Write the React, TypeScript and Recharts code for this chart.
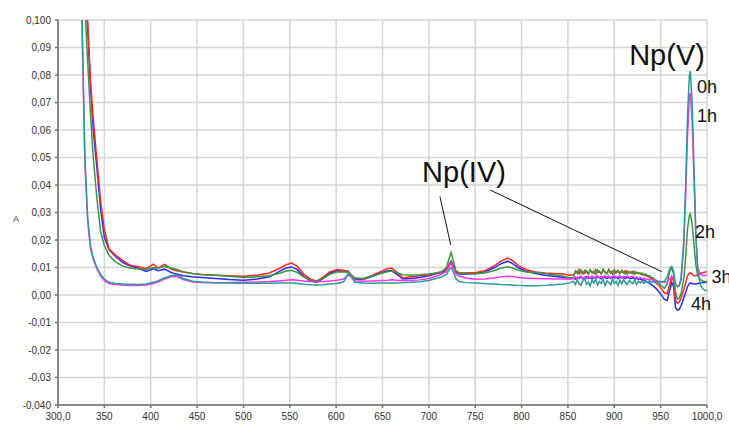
import { LineChart, Line, XAxis, YAxis, CartesianGrid, ReferenceLine, ReferenceDot } from 'recharts';

// wavelength grid, nm (dense steps where the detector is noisy)
const wavelengths = [
  320, 324, 326, 329, 332, 335, 338, 342, 346, 350, 355, 362, 370, 378, 386, 395, 403, 408, 415, 422,
  428, 435, 445, 455, 470, 485, 500, 515, 528, 540, 546, 552, 558, 565, 572, 579, 586, 593, 601, 608,
  613, 616, 620, 629, 638, 648, 656, 660, 666, 672, 680, 690, 700, 708, 714, 719, 722, 724, 726, 729,
  733, 740, 750, 760, 770, 778, 785, 790, 797, 805, 815, 825, 835, 845, 852,
  856, 858, 860, 862, 864, 866, 868, 870, 872, 874, 876, 878, 880, 882, 884, 886, 888, 890, 892, 894,
  896, 898, 900, 902, 904, 906, 908, 910, 912, 914, 916, 918, 920, 922, 924, 926, 928, 930, 932, 934,
  936, 938, 940, 942, 944, 946, 948,
  950, 954, 957, 960, 962, 964, 966, 968, 970, 972, 975, 977, 979, 981, 982, 984, 986, 988, 990, 993, 996, 1000,
];

// absorbance after 0 h
const abs0h = [
  0.300, 0.130, 0.100, 0.050, 0.028, 0.018, 0.0135, 0.010, 0.0075, 0.0058, 0.0046, 0.0042, 0.0040, 0.0039, 0.0038, 0.0040, 0.0046, 0.0052, 0.0062, 0.0070,
  0.0073, 0.0060, 0.0050, 0.0047, 0.0045, 0.0044, 0.0043, 0.0043, 0.0043, 0.0044, 0.0044, 0.0044, 0.0042, 0.0039, 0.0037, 0.0036, 0.0037, 0.0040, 0.0042, 0.0048,
  0.0078, 0.0070, 0.0046, 0.0044, 0.0043, 0.0044, 0.0044, 0.0044, 0.0044, 0.0045, 0.0046, 0.0048, 0.0053, 0.0060, 0.0066, 0.0075, 0.0092, 0.0100, 0.0088, 0.0060,
  0.0049, 0.0045, 0.0044, 0.0042, 0.0040, 0.0038, 0.0037, 0.0036, 0.0035, 0.0034, 0.0034, 0.0035, 0.0037, 0.0040, 0.0044,
  0.0050, 0.0038, 0.0056, 0.0041, 0.0035, 0.0052, 0.0060, 0.0039, 0.0047, 0.0033, 0.0055, 0.0044, 0.0058, 0.0036, 0.0049, 0.0042, 0.0057, 0.0034, 0.0051, 0.0046,
  0.0037, 0.0059, 0.0043, 0.0050, 0.0035, 0.0054, 0.0040, 0.0056, 0.0045, 0.0038, 0.0053, 0.0047, 0.0041, 0.0055, 0.0039, 0.0050, 0.0044, 0.0052, 0.0042, 0.0049,
  0.0045, 0.0051, 0.0046, 0.0048, 0.0045, 0.0048, 0.0047,
  0.0048, 0.0050, 0.0065, 0.0098, 0.0104, 0.0086, 0.0040, 0.0030, 0.0034, 0.0060, 0.0200, 0.0400, 0.0650, 0.0800, 0.0815, 0.0700, 0.0460, 0.0220, 0.0090, 0.0035, 0.0020, 0.0015,
];

// absorbance after 1 h
const abs1h = [
  0.300, 0.125, 0.095, 0.048, 0.027, 0.017, 0.013, 0.0095, 0.007, 0.0052, 0.0042, 0.0038, 0.0036, 0.0035, 0.0035, 0.0036, 0.0042, 0.0048, 0.0058, 0.0066,
  0.0068, 0.0056, 0.0047, 0.0045, 0.0044, 0.0045, 0.0046, 0.0047, 0.0049, 0.0052, 0.0054, 0.0055, 0.0054, 0.0051, 0.0049, 0.0048, 0.0049, 0.0051, 0.0054, 0.0058,
  0.0072, 0.0066, 0.0052, 0.0050, 0.0051, 0.0053, 0.0054, 0.0055, 0.0054, 0.0053, 0.0053, 0.0055, 0.0060, 0.0068, 0.0076, 0.0086, 0.0105, 0.0115, 0.0100, 0.0076,
  0.0068, 0.0062, 0.0057, 0.0058, 0.0062, 0.0066, 0.0068, 0.0067, 0.0064, 0.0061, 0.0060, 0.0059, 0.0058, 0.0058, 0.0057,
  0.0060, 0.0066, 0.0058, 0.0064, 0.0069, 0.0061, 0.0065, 0.0059, 0.0067, 0.0063, 0.0070, 0.0062, 0.0066, 0.0071, 0.0063, 0.0068, 0.0064, 0.0070, 0.0065, 0.0069,
  0.0063, 0.0068, 0.0071, 0.0064, 0.0067, 0.0070, 0.0062, 0.0068, 0.0065, 0.0069, 0.0063, 0.0066, 0.0068, 0.0062, 0.0065, 0.0060, 0.0063, 0.0059, 0.0061, 0.0057,
  0.0058, 0.0055, 0.0056, 0.0053, 0.0052, 0.0050, 0.0049,
  0.0048, 0.0046, 0.0048, 0.0060, 0.0068, 0.0062, 0.0040, 0.0032, 0.0034, 0.0055, 0.0180, 0.0360, 0.0580, 0.0720, 0.0735, 0.0630, 0.0420, 0.0210, 0.0100, 0.0075, 0.0070, 0.0072,
];

// absorbance after 2 h
const abs2h = [
  0.300, 0.200, 0.150, 0.105, 0.085, 0.066, 0.050, 0.035, 0.023, 0.018, 0.0145, 0.012, 0.0105, 0.0097, 0.0095, 0.0093, 0.0100, 0.0097, 0.0104, 0.0098,
  0.0093, 0.0085, 0.0078, 0.0074, 0.0072, 0.0068, 0.0064, 0.0066, 0.0070, 0.0080, 0.0087, 0.0090, 0.0082, 0.0066, 0.0054, 0.0050, 0.0060, 0.0075, 0.0084, 0.0084,
  0.0083, 0.0072, 0.0062, 0.0060, 0.0068, 0.0078, 0.0085, 0.0087, 0.0080, 0.0074, 0.0073, 0.0074, 0.0076, 0.0080, 0.0086, 0.0100, 0.0135, 0.0155, 0.0130, 0.0090,
  0.0080, 0.0078, 0.0077, 0.0080, 0.0088, 0.0098, 0.0103, 0.0098, 0.0090, 0.0084, 0.0082, 0.0078, 0.0074, 0.0068, 0.0062,
  0.0064, 0.0088, 0.0079, 0.0093, 0.0081, 0.0076, 0.0090, 0.0084, 0.0078, 0.0092, 0.0080, 0.0087, 0.0075, 0.0091, 0.0083, 0.0079, 0.0094, 0.0082, 0.0077, 0.0089,
  0.0085, 0.0076, 0.0092, 0.0081, 0.0087, 0.0078, 0.0090, 0.0083, 0.0076, 0.0088, 0.0080, 0.0085, 0.0077, 0.0086, 0.0079, 0.0082, 0.0075, 0.0080, 0.0072, 0.0076,
  0.0069, 0.0071, 0.0064, 0.0062, 0.0056, 0.0052, 0.0046,
  0.0036, 0.0024, 0.0040, 0.0090, 0.0098, 0.0075, 0.0010, -0.0016, -0.0012, 0.0005, 0.0060, 0.0140, 0.0240, 0.0290, 0.0295, 0.0260, 0.0180, 0.0110, 0.0070, 0.0056, 0.0050, 0.0048,
];

// absorbance after 3 h
const abs3h = [
  0.300, 0.220, 0.170, 0.120, 0.100, 0.078, 0.064, 0.049, 0.034, 0.024, 0.0168, 0.0145, 0.0125, 0.0108, 0.0103, 0.0096, 0.0112, 0.0098, 0.0112, 0.0094,
  0.0088, 0.0084, 0.0078, 0.0075, 0.0072, 0.0070, 0.0068, 0.0072, 0.0080, 0.0098, 0.0110, 0.0116, 0.0104, 0.0076, 0.0058, 0.0050, 0.0065, 0.0084, 0.0093, 0.0090,
  0.0086, 0.0074, 0.0062, 0.0058, 0.0070, 0.0085, 0.0096, 0.0098, 0.0082, 0.0062, 0.0066, 0.0070, 0.0074, 0.0080, 0.0084, 0.0092, 0.0110, 0.0120, 0.0106, 0.0085,
  0.0080, 0.0081, 0.0081, 0.0088, 0.0105, 0.0123, 0.0134, 0.0126, 0.0106, 0.0092, 0.0084, 0.0080, 0.0078, 0.0076, 0.0072,
  0.0074, 0.0080, 0.0086, 0.0077, 0.0091, 0.0082, 0.0079, 0.0088, 0.0076, 0.0090, 0.0083, 0.0078, 0.0092, 0.0081, 0.0086, 0.0077, 0.0089, 0.0084, 0.0079, 0.0093,
  0.0080, 0.0087, 0.0078, 0.0085, 0.0090, 0.0079, 0.0086, 0.0081, 0.0088, 0.0077, 0.0084, 0.0080, 0.0086, 0.0076, 0.0082, 0.0078, 0.0080, 0.0073, 0.0076, 0.0070,
  0.0068, 0.0064, 0.0060, 0.0055, 0.0050, 0.0042, 0.0036,
  0.0026, 0.0008, 0.0005, 0.0040, 0.0066, 0.0050, -0.0020, -0.0030, -0.0026, -0.0012, 0.0020, 0.0045, 0.0070, 0.0080, 0.0080, 0.0076, 0.0070, 0.0070, 0.0074, 0.0078, 0.0082, 0.0085,
];

// absorbance after 4 h
const abs4h = [
  0.300, 0.210, 0.160, 0.115, 0.097, 0.076, 0.060, 0.046, 0.031, 0.021, 0.0165, 0.0140, 0.0118, 0.0105, 0.0098, 0.0086, 0.0095, 0.0088, 0.0094, 0.0082,
  0.0076, 0.0070, 0.0066, 0.0064, 0.0060, 0.0056, 0.0054, 0.0058, 0.0066, 0.0088, 0.0098, 0.0102, 0.0092, 0.0068, 0.0052, 0.0046, 0.0060, 0.0080, 0.0088, 0.0087,
  0.0086, 0.0070, 0.0058, 0.0056, 0.0066, 0.0080, 0.0088, 0.0088, 0.0074, 0.0058, 0.0060, 0.0064, 0.0070, 0.0077, 0.0082, 0.0090, 0.0112, 0.0123, 0.0108, 0.0082,
  0.0076, 0.0076, 0.0077, 0.0084, 0.0098, 0.0114, 0.0123, 0.0115, 0.0098, 0.0086, 0.0078, 0.0072, 0.0068, 0.0064, 0.0062,
  0.0061, 0.0058, 0.0064, 0.0060, 0.0066, 0.0059, 0.0063, 0.0067, 0.0060, 0.0064, 0.0058, 0.0065, 0.0061, 0.0067, 0.0062, 0.0059, 0.0066, 0.0063, 0.0060, 0.0065,
  0.0061, 0.0067, 0.0062, 0.0064, 0.0059, 0.0066, 0.0061, 0.0064, 0.0060, 0.0065, 0.0062, 0.0059, 0.0063, 0.0058, 0.0061, 0.0057, 0.0059, 0.0054, 0.0055, 0.0050,
  0.0047, 0.0042, 0.0038, 0.0033, 0.0027, 0.0020, 0.0012,
  0.0004, -0.0016, -0.0020, 0.0020, 0.0046, 0.0030, -0.0045, -0.0055, -0.0052, -0.0040, -0.0010, 0.0010, 0.0030, 0.0042, 0.0044, 0.0042, 0.0040, 0.0040, 0.0042, 0.0044, 0.0045, 0.0046,
];

const xTicks = [300, 350, 400, 450, 500, 550, 600, 650, 700, 750, 800, 850, 900, 950, 1000];
const xTickLabels = ['300,0', '350', '400', '450', '500', '550', '600', '650', '700', '750', '800', '850', '900', '950', '1000,0'];
const yTicks = [-0.04, -0.03, -0.02, -0.01, 0, 0.01, 0.02, 0.03, 0.04, 0.05, 0.06, 0.07, 0.08, 0.09, 0.1];
const yTickLabels = ['-0,040', '-0,03', '-0,02', '-0,01', '0,00', '0,01', '0,02', '0,03', '0,04', '0,05', '0,06', '0,07', '0,08', '0,09', '0,100'];

const series = [
  { key: 'h4', values: abs4h, color: '#2b2bff' },
  { key: 'h3', values: abs3h, color: '#ff2626' },
  { key: 'h2', values: abs2h, color: '#35983a' },
  { key: 'h1', values: abs1h, color: '#ff33ff' },
  { key: 'h0', values: abs0h, color: '#2a9a96' },
];

// text annotations, anchored in data coordinates
const timeLabels = [
  { text: '0h', nm: 989.2, a: 0.0735 },
  { text: '1h', nm: 989.2, a: 0.063 },
  { text: '2h', nm: 987.0, a: 0.0207 },
  { text: '3h', nm: 1004.8, a: 0.0044 },
  { text: '4h', nm: 982.7, a: -0.0055 },
];
const speciesLabels = [
  { text: 'Np(V)', nm: 956.9, a: 0.0836 },
  { text: 'Np(IV)', nm: 737.9, a: 0.0411 },
];
const pointers = [
  [{ x: 712.0, y: 0.0358 }, { x: 723.6, y: 0.0182 }],
  [{ x: 766.0, y: 0.0382 }, { x: 951.1, y: 0.0085 }],
];

const data = wavelengths.map((nm, i) => {
  const row: Record<string, number> = { nm };
  series.forEach(s => { row[s.key] = s.values[i]; });
  return row;
});

const fmtX = (v: number) => xTickLabels[xTicks.indexOf(v)] ?? String(v);
const fmtY = (v: number) => {
  const i = yTicks.findIndex(t => Math.abs(t - v) < 1e-6);
  return i >= 0 ? yTickLabels[i] : String(v);
};

const font = '"Liberation Sans", Arial, sans-serif';
const axisColor = '#6e6e6e';

const textLabel = (text: string, size: number, anchor: 'start' | 'middle') => (props: any) => {
  const { viewBox } = props;
  return (
    <text x={viewBox.x} y={viewBox.y} fontSize={size} fontFamily={font} fill="#111" textAnchor={anchor}>
      {text}
    </text>
  );
};

export default function App() {
  return (
    <div style={{ position: 'fixed', left: 0, top: 0, width: 729, height: 430, background: '#fff' }}>
      <LineChart width={729} height={430} data={data} margin={{ top: 20, right: 22, bottom: 0, left: 0 }}>
        <CartesianGrid stroke="#d6d6d6" strokeWidth={1.5} />
        <XAxis
          dataKey="nm"
          type="number"
          domain={[300, 1000]}
          ticks={xTicks}
          tickFormatter={fmtX}
          height={25}
          tickSize={3}
          tickMargin={5}
          stroke={axisColor}
          strokeWidth={1.5}
          tick={{ fontSize: 10, fontFamily: font, fill: '#333' }}
          label={{ value: 'NM', position: 'insideBottom', offset: -5, fontSize: 8, fontFamily: font, fill: '#333' }}
        />
        <YAxis
          type="number"
          domain={[-0.04, 0.1]}
          allowDataOverflow
          ticks={yTicks}
          tickFormatter={fmtY}
          width={58}
          tickSize={3}
          tickMargin={4}
          stroke={axisColor}
          strokeWidth={1.5}
          tick={{ fontSize: 10, fontFamily: font, fill: '#333' }}
          label={{ value: 'A', position: 'insideLeft', offset: 13, dy: 6, fontSize: 9, fontFamily: font, fill: '#333' }}
        />
        {series.map(s => (
          <Line
            key={s.key}
            dataKey={s.key}
            stroke={s.color}
            strokeWidth={1.5}
            dot={false}
            type="linear"
            isAnimationActive={false}
          />
        ))}
        {pointers.map((seg, i) => (
          <ReferenceLine key={i} segment={seg} stroke="#111" strokeWidth={1} ifOverflow="visible" />
        ))}
        {speciesLabels.map(l => (
          <ReferenceDot key={l.text} x={l.nm} y={l.a} r={0} stroke="none" ifOverflow="visible"
            label={{ content: textLabel(l.text, 29, 'middle') }} />
        ))}
        {timeLabels.map(l => (
          <ReferenceDot key={l.text} x={l.nm} y={l.a} r={0} stroke="none" ifOverflow="visible"
            label={{ content: textLabel(l.text, 18, 'start') }} />
        ))}
      </LineChart>
    </div>
  );
}
